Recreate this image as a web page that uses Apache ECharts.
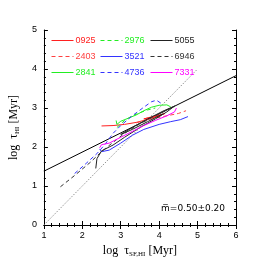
<!DOCTYPE html>
<html><head><meta charset="utf-8">
<script src="https://cdn.jsdelivr.net/npm/echarts@6/dist/echarts.min.js"></script>
<style>html,body{margin:0;padding:0;background:#fff}#c{width:266px;height:266px}</style>
</head><body><div id="c"></div>
<script>
const xTicks = [1, 2, 3, 4, 5, 6];
const yTicks = [0, 1, 2, 3, 4, 5];
const fitLine = [[1, 1.38], [6, 3.83]];
const oneToOne = [[1, 0], [5, 4]];
const names = ['0925', '2403', '2841', '2976', '3521', '4736', '5055', '6946', '7331'];
const s0925 = [[2.5,2.54],[2.8,2.55],[3.1,2.58],[3.4,2.63],[3.6,2.68],[3.8,2.74],[4.0,2.8],[4.15,2.86],[3.9,2.78],[3.6,2.72],[3.75,2.76],[4.05,2.83]];
const s2403 = [[3.4,2.62],[3.8,2.72],[4.2,2.8],[4.5,2.86],[4.7,2.93]];
const s2841 = [[2.88,2.68],[2.9,2.58],[3.0,2.66],[3.2,2.74],[3.4,2.82],[3.6,2.93],[3.8,3.02],[4.0,3.07],[4.2,3.08],[4.3,3.03]];
const s2976 = [[2.9,2.5],[3.1,2.68],[3.3,2.8],[3.5,2.88],[3.7,2.95],[3.9,3.0]];
const s3521 = [[2.45,1.95],[2.5,1.88],[2.7,1.92],[3.0,2.1],[3.3,2.3],[3.6,2.45],[4.0,2.58],[4.3,2.65],[4.55,2.7],[4.75,2.78]];
const s4736 = [[1.8,1.32],[2.1,1.58],[2.4,1.85],[2.6,2.08],[2.8,2.35],[3.0,2.55],[3.3,2.8],[3.6,3.02],[3.8,3.16],[3.93,3.2],[4.05,3.12]];
const s5055 = [[2.35,1.45],[2.38,1.7],[2.5,1.9],[2.8,2.05],[3.1,2.25],[3.5,2.5],[3.9,2.72],[4.2,2.9],[4.4,3.05],[4.1,2.92],[3.7,2.72],[3.3,2.5],[3.0,2.32],[3.3,2.45],[3.7,2.65],[4.1,2.85]];
const s6946 = [[1.43,0.98],[1.8,1.27],[2.2,1.6],[2.5,1.88],[2.8,2.12],[3.1,2.35],[3.5,2.6],[3.9,2.8],[4.2,2.95],[4.4,3.03]];
const s7331 = [[2.45,1.98],[2.5,2.06],[2.7,2.1],[3.0,2.25],[3.3,2.4],[3.6,2.55],[3.9,2.68],[4.2,2.8],[4.4,2.9],[4.45,3.0]];

const colors = {'0925':'#ff2020','2403':'#ff4040','2841':'#22ee22','2976':'#22ee22','3521':'#3333ff','4736':'#3333ff','5055':'#222222','6946':'#333333','7331':'#ff00ff'};
const dashed = {'2403':true,'2976':true,'4736':true,'6946':true};
const dataMap = {'0925':s0925,'2403':s2403,'2841':s2841,'2976':s2976,'3521':s3521,'4736':s4736,'5055':s5055,'6946':s6946,'7331':s7331};

const chart = echarts.init(document.getElementById('c'), null, {renderer:'canvas'});
const grid = {left:41, right:30, top:30, bottom:41};
const axisCommon = {
  type:'value', axisLine:{show:true,lineStyle:{color:'#000',width:1}},
  axisTick:{show:true,inside:true,length:4,lineStyle:{color:'#000'}},
  minorTick:{show:true,splitNumber:5,length:2,lineStyle:{color:'#000'}},
  splitLine:{show:false}
};
const lbl = {color:'#000',fontSize:9,fontFamily:'Liberation Sans'};
const series = [
  {type:'line',data:fitLine,symbol:'none',lineStyle:{color:'#000',width:1},silent:true,z:1},
  {type:'line',data:oneToOne,symbol:'none',lineStyle:{color:'#777',width:0.8,type:[1.5,1.5]},silent:true,z:1}
];
names.forEach(n=>{
  series.push({name:n,type:'line',data:dataMap[n],symbol:'none',
    lineStyle:{color:colors[n],width:1,type:dashed[n]?[4,3]:'solid'},itemStyle:{color:colors[n]}});
});
function legendCol(left, items){
  return {show:true, left:left, top:36, orient:'vertical', itemWidth:22, itemHeight:8, itemGap:7, padding:0,
    itemStyle:{color:'transparent',borderColor:'transparent',borderWidth:0},
    lineStyle:{width:1},
    data:items.map(n=>({name:n,textStyle:{color:colors[n]}})),
    textStyle:{fontSize:9,fontFamily:'Liberation Sans',padding:[0,0,0,-3]}, selectedMode:false};
}
chart.setOption({
  animation:false,
  grid:grid,
  xAxis:[
    Object.assign({},axisCommon,{min:1,max:6,interval:1,position:'bottom',
      axisLabel:Object.assign({},lbl,{margin:6}),
      name:'{a|log  τ}{s|SF,HI}{a| [Myr]}',nameLocation:'middle',nameGap:12,
      nameTextStyle:{rich:{a:{fontFamily:'Liberation Serif',fontSize:12,color:'#000'},s:{fontFamily:'Liberation Serif',fontSize:7,color:'#000',verticalAlign:'bottom',padding:[7,0,0,0]}}}}),
    Object.assign({},axisCommon,{min:1,max:6,interval:1,position:'top',axisLabel:{show:false}})
  ],
  yAxis:[
    Object.assign({},axisCommon,{min:0,max:5,interval:1,position:'left',
      axisLabel:Object.assign({},lbl,{margin:7}),
      name:'{a|log  τ}{s|HI}{a| [Myr]}',nameLocation:'middle',nameGap:20,nameRotate:90,
      nameTextStyle:{rich:{a:{fontFamily:'Liberation Serif',fontSize:12,color:'#000'},s:{fontFamily:'Liberation Serif',fontSize:7,color:'#000',verticalAlign:'bottom',padding:[7,0,0,0]}}}}),
    Object.assign({},axisCommon,{min:0,max:5,interval:1,position:'right',axisLabel:{show:false}})
  ],
  legend:[legendCol(51,names.slice(0,3)),legendCol(100,names.slice(3,6)),legendCol(150,names.slice(6,9))],
  graphic:[{type:'text',right:41,top:204,style:{text:'m\u0305=0.50±0.20',font:'9px "DejaVu Sans"',fill:'#000'}}],
  series:series
});
</script></body></html>
